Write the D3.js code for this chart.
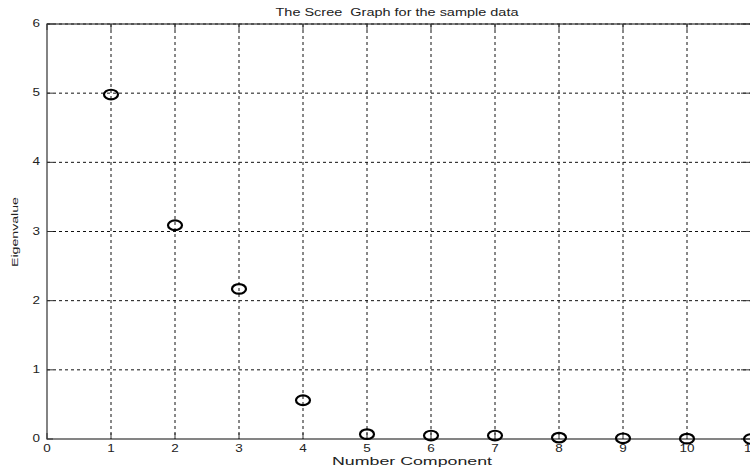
<!DOCTYPE html>
<html>
<head>
<meta charset="utf-8">
<script src="https://cdn.jsdelivr.net/npm/d3@7"></script>
<style>
  body { margin: 0; background: #fff; }
  text { font-family: "Liberation Sans", Arial, sans-serif; fill: #222; white-space: pre; }
</style>
</head>
<body>
<script>
/* Scree plot values */
var components = [1, 2, 3, 4, 5, 6, 7, 8, 9, 10, 11];
var eigenvalues = [4.98, 3.09, 2.17, 0.56, 0.07, 0.05, 0.05, 0.02, 0.01, 0.005, 0];
var xTicks = [0, 1, 2, 3, 4, 5, 6, 7, 8, 9, 10, 11];
var yTicks = [0, 1, 2, 3, 4, 5, 6];

var W = 750, H = 468;
var plotL = 47, plotR = 751, plotT = 24, plotB = 439;
var stretch = 1.35; // the source image was widened

var svg = d3.select("body").append("svg")
    .attr("width", W)
    .attr("height", H);

var x = d3.scaleLinear().domain([0, 11]).range([plotL, plotR]);
var y = d3.scaleLinear().domain([0, 6]).range([plotB, plotT]);

/* dotted grid */
svg.selectAll(".vgrid")
    .data(xTicks.slice(1))
  .enter().append("line")
    .attr("x1", d => x(d)).attr("x2", d => x(d))
    .attr("y1", plotT).attr("y2", plotB)
    .attr("stroke", "#111").attr("stroke-width", 1)
    .attr("stroke-dasharray", "3,3");

svg.selectAll(".hgrid")
    .data(yTicks.slice(1))
  .enter().append("line")
    .attr("x1", plotL).attr("x2", plotR)
    .attr("y1", d => y(d)).attr("y2", d => y(d))
    .attr("stroke", "#111").attr("stroke-width", 1)
    .attr("stroke-dasharray", "3,3");

/* inward ticks on all four sides */
var tk = 6;
xTicks.forEach(function(d) {
  svg.append("line").attr("x1", x(d)).attr("x2", x(d))
    .attr("y1", plotB).attr("y2", plotB - tk).attr("stroke", "#333");
  svg.append("line").attr("x1", x(d)).attr("x2", x(d))
    .attr("y1", plotT).attr("y2", plotT + tk).attr("stroke", "#333");
});
yTicks.forEach(function(d) {
  svg.append("line").attr("x1", plotL).attr("x2", plotL + tk)
    .attr("y1", y(d)).attr("y2", y(d)).attr("stroke", "#333");
  svg.append("line").attr("x1", plotR - 10).attr("x2", plotR)
    .attr("y1", y(d)).attr("y2", y(d)).attr("stroke", "#333");
});

/* frame */
svg.append("rect")
    .attr("x", plotL).attr("y", plotT)
    .attr("width", plotR - plotL).attr("height", plotB - plotT)
    .attr("fill", "none").attr("stroke", "#333").attr("stroke-width", 1.2);

/* tick labels */
function stretchedText(px, py, str, anchor, size) {
  return svg.append("text")
    .attr("transform", "translate(" + px + "," + py + ") scale(" + stretch + ",1)")
    .attr("text-anchor", anchor)
    .attr("font-size", size)
    .text(str);
}

xTicks.forEach(function(d) { stretchedText(x(d), 452, d, "middle", 10); });
yTicks.forEach(function(d) { stretchedText(40, y(d) + 3, d, "end", 10); });

/* markers */
svg.selectAll(".pt")
    .data(components)
  .enter().append("ellipse")
    .attr("class", "pt")
    .attr("cx", d => x(d))
    .attr("cy", (d, i) => y(eigenvalues[i]))
    .attr("rx", 7).attr("ry", 4.8)
    .attr("fill", "none")
    .attr("stroke", "#000")
    .attr("stroke-width", 2.2);

/* title and axis labels */
svg.append("text")
    .attr("x", 397).attr("y", 16)
    .attr("text-anchor", "middle")
    .attr("font-size", 10)
    .attr("textLength", 243).attr("lengthAdjust", "spacingAndGlyphs")
    .text("The Scree  Graph for the sample data");

svg.append("text")
    .attr("x", 412).attr("y", 465)
    .attr("text-anchor", "middle")
    .attr("font-size", 10)
    .attr("textLength", 160).attr("lengthAdjust", "spacingAndGlyphs")
    .text("Number Component");

svg.append("text")
    .attr("transform", "translate(18,232) rotate(-90)")
    .attr("text-anchor", "middle")
    .attr("font-size", 9)
    .attr("textLength", 70).attr("lengthAdjust", "spacingAndGlyphs")
    .text("Eigenvalue");
</script>
</body>
</html>
